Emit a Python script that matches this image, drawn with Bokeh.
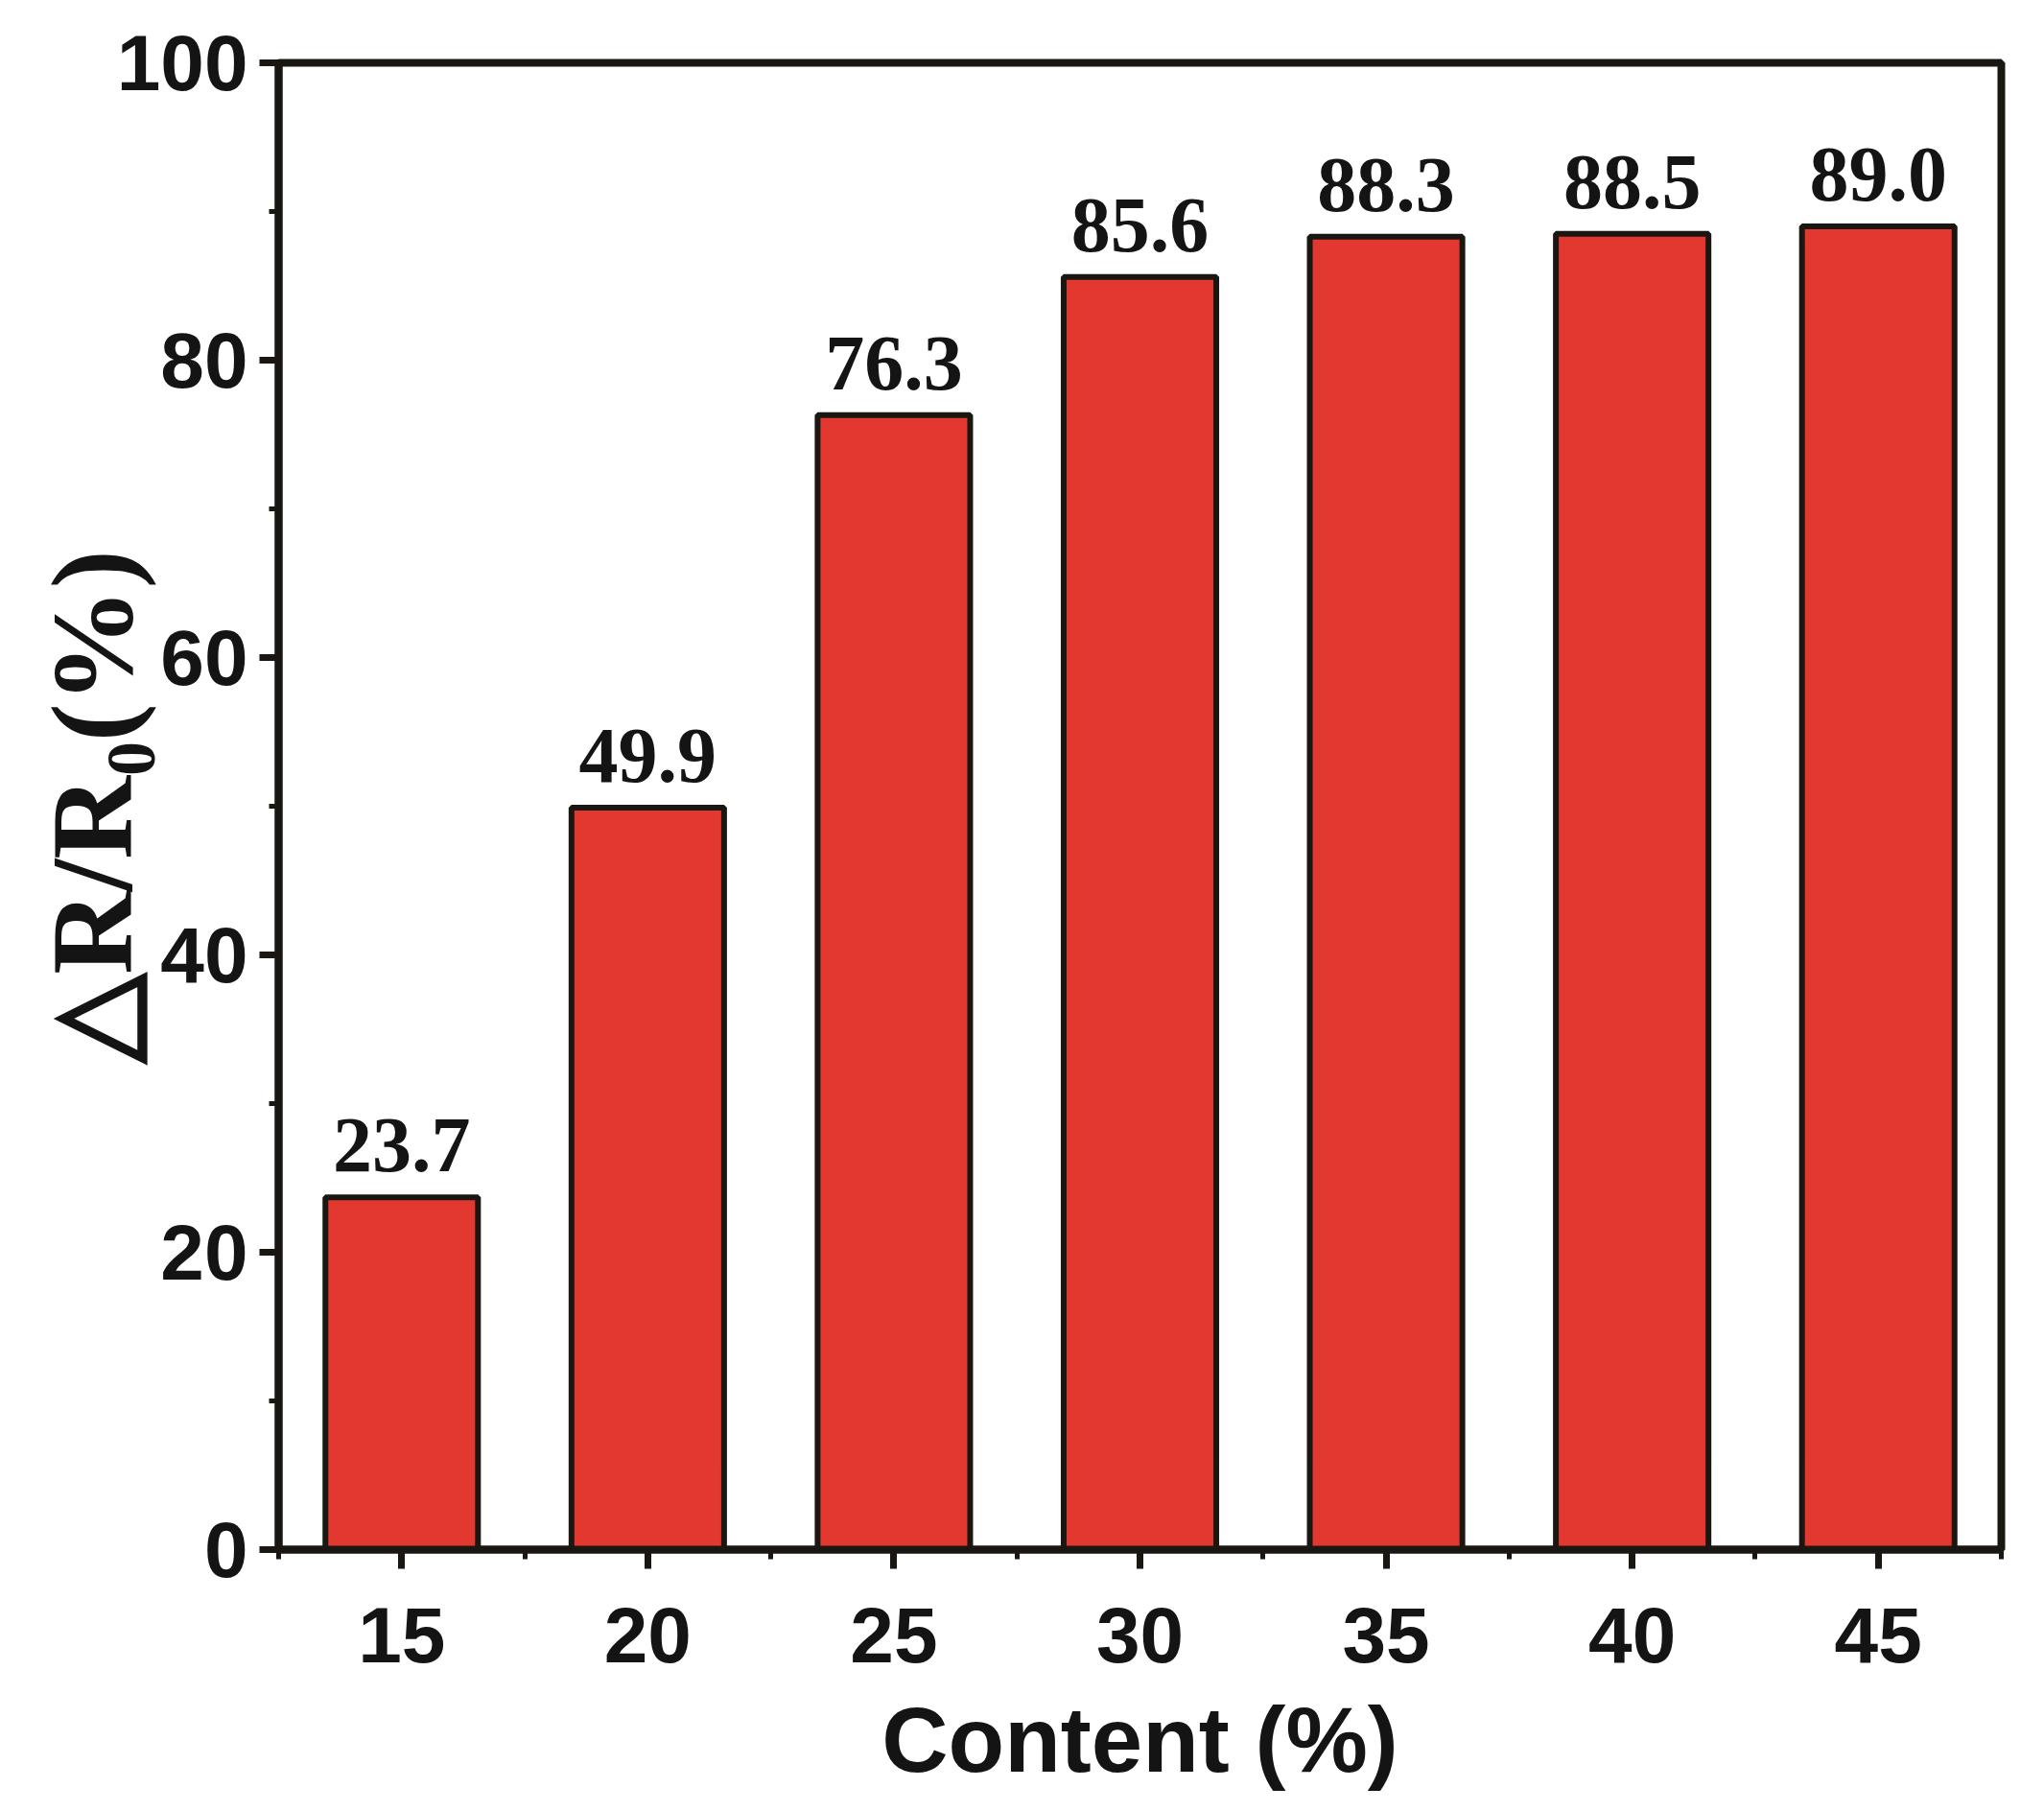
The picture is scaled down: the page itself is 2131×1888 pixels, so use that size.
from bokeh.plotting import figure
from bokeh.models import ColumnDataSource, FixedTicker, Range1d
from bokeh.core.properties import value
from bokeh.embed import file_html
from bokeh.resources import INLINE

# ---- data ----
content = [15, 20, 25, 30, 35, 40, 45]
response = [23.7, 49.9, 76.3, 85.6, 88.3, 88.5, 89.0]
x_ticks = [15, 20, 25, 30, 35, 40, 45]
x_minor = [12.5, 17.5, 22.5, 27.5, 32.5, 37.5, 42.5, 47.5]
y_ticks = [0, 20, 40, 60, 80, 100]
y_minor = [10, 30, 50, 70, 90]
x_title = "Content (%)"
y_title = "\u25b3R/R\u2080(%)"

labels = [f"{v:.1f}" for v in response]
src = ColumnDataSource(dict(x=content, top=response, label=labels))

p = figure(width=2123, height=1872, frame_width=1796, frame_height=1550,
           x_range=Range1d(12.5, 47.5), y_range=Range1d(0, 100),
           output_backend="svg", toolbar_location=None,
           min_border_left=290, min_border_top=65, min_border_right=37,
           min_border_bottom=250)

p.background_fill_color = "white"
p.border_fill_color = "white"
p.xgrid.visible = False
p.ygrid.visible = False
p.outline_line_color = "#1a1712"
p.outline_line_width = 8

p.vbar(x="x", top="top", width=3.1, source=src,
       fill_color="#E33830", line_color="#1a1712", line_width=6)

p.text(x="x", y="top", text="label", source=src,
       text_font=value("Liberation Serif"), text_font_style="bold",
       text_font_size="82px", text_align="center",
       text_baseline="alphabetic", y_offset=-54, text_color="#141414")

p.xaxis.ticker = FixedTicker(ticks=x_ticks, minor_ticks=x_minor)
p.yaxis.ticker = FixedTicker(ticks=y_ticks, minor_ticks=y_minor)

for ax in (p.xaxis[0], p.yaxis[0]):
    ax.axis_line_width = 8
    ax.axis_line_color = "#1a1712"
    ax.major_tick_line_width = 7
    ax.major_tick_line_color = "#1a1712"
    ax.minor_tick_line_width = 5
    ax.minor_tick_line_color = "#1a1712"
    ax.major_tick_out = 20
    ax.major_tick_in = 0
    ax.minor_tick_out = 10
    ax.minor_tick_in = 0
    ax.major_label_text_font = "Liberation Sans"
    ax.major_label_text_font_style = "bold"
    ax.major_label_text_font_size = "82px"
    ax.major_label_text_color = "#141414"

p.xaxis.major_label_standoff = 40
p.yaxis.major_label_standoff = 12

p.xaxis.axis_label = x_title
p.xaxis.axis_label_text_font = "Liberation Sans"
p.xaxis.axis_label_text_font_style = "bold"
p.xaxis.axis_label_text_font_size = "96px"
p.xaxis.axis_label_text_color = "#141414"
p.xaxis.axis_label_standoff = 24

p.yaxis.axis_label = y_title
p.yaxis.axis_label_text_font = "Liberation Serif"
p.yaxis.axis_label_text_font_style = "bold"
p.yaxis.axis_label_text_font_size = "120px"
p.yaxis.axis_label_text_color = "#141414"
p.yaxis.axis_label_standoff = -44

open("out.html", "w").write(file_html(p, INLINE))
